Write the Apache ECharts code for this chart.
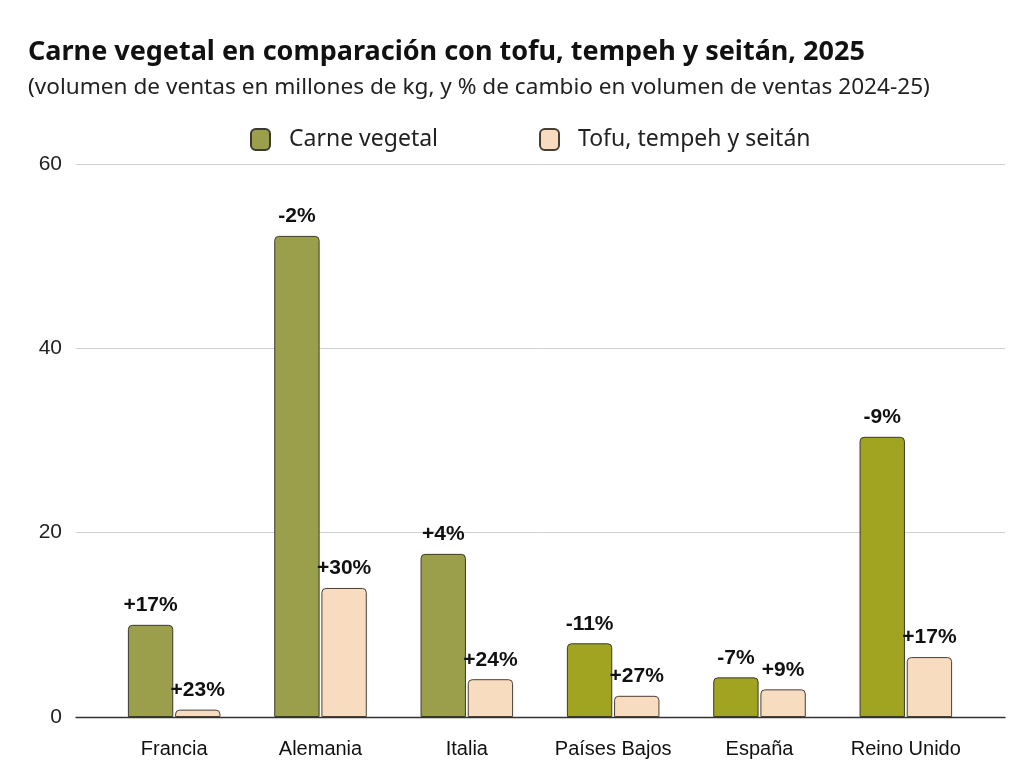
<!DOCTYPE html>
<html><head><meta charset="utf-8">
<script src="https://cdn.jsdelivr.net/npm/echarts@6/dist/echarts.min.js"></script>
<style>html,body{margin:0;padding:0;background:#fff}#c{width:1024px;height:768px}</style>
</head><body><div id="c"></div>
<script>
const categories = ['Francia','Alemania','Italia','Países Bajos','España','Reino Unido'];
const carneVegetal = [10.0, 52.2, 17.7, 8.0, 4.3, 30.4];
const tofu = [0.8, 14.0, 4.1, 2.3, 3.0, 6.5];
const carneChange = ['+17%','-2%','+4%','-11%','-7%','-9%'];
const tofuChange = ['+23%','+30%','+24%','+27%','+9%','+17%'];
const yTicks = [0, 20, 40, 60];

const cvColors = ['#9b9f4c','#9b9f4c','#9b9f4c','#a0a420','#a0a420','#a0a420'];

const chart = echarts.init(document.getElementById('c'));
const labelStyle = {show:true, position:'top', distance:9, fontFamily:'Liberation Sans, Arial, sans-serif', fontWeight:'bold', fontSize:21, color:'#111'};
chart.setOption({
  animation:false,
  title:[{text:'Carne vegetal en comparación con tofu, tempeh y seitán, 2025', left:23, top:34,
    textStyle:{fontFamily:'Noto Sans', fontWeight:'bold', fontSize:27, color:'#111'}},
    {text:'(volumen de ventas en millones de kg, y % de cambio en volumen de ventas 2024-25)', left:23, top:71,
    textStyle:{fontFamily:'Noto Sans', fontWeight:'normal', fontSize:22.6, color:'#222'}}],
  legend:{top:123, left:245, itemGap:101, itemWidth:19, itemHeight:21, icon:'roundRect',
    textStyle:{fontFamily:'Noto Sans', fontSize:23, color:'#222', padding:[0,0,0,14]},
    data:['Carne vegetal','Tofu, tempeh y seitán']},
  grid:[{left:76, right:19, top:164, bottom:51},{left:101, right:45, top:164, bottom:51}],
  xAxis:[
    {type:'value', gridIndex:0, min:0, max:1, show:true, axisLabel:{show:false}, axisTick:{show:false}, splitLine:{show:false},
     axisLine:{show:true, onZero:true, lineStyle:{color:'#333', width:1.3}}},
    {type:'category', gridIndex:1, data:categories, axisLine:{show:false}, axisTick:{show:false},
     axisLabel:{interval:0, margin:22, fontFamily:'Liberation Sans, Arial, sans-serif', fontSize:20, color:'#111'}}
  ],
  yAxis:[
    {type:'value', gridIndex:0, min:yTicks[0], max:yTicks[yTicks.length-1], interval:20,
     axisLine:{show:false}, axisTick:{show:false},
     axisLabel:{margin:14, fontFamily:'Liberation Sans, Arial, sans-serif', fontSize:21, color:'#222', padding:[3,0,0,0]},
     splitLine:{show:true, lineStyle:{color:'#d0d0d0', width:1}}},
    {type:'value', gridIndex:1, min:yTicks[0], max:yTicks[yTicks.length-1], interval:20, show:false}
  ],
  series:[
    {name:'Carne vegetal', type:'bar', xAxisIndex:1, yAxisIndex:1, barWidth:'31%', barGap:'4%',
     itemStyle:{color:'#9b9f4c', borderColor:'#3a3a2c', borderWidth:1, borderRadius:[4,4,0,0]},
     data:carneVegetal.map((v,i)=>({value:v, itemStyle:{color:cvColors[i]}})),
     label:Object.assign({}, labelStyle, {formatter:p=>carneChange[p.dataIndex]})},
    {name:'Tofu, tempeh y seitán', type:'bar', xAxisIndex:1, yAxisIndex:1, barWidth:'31%', barGap:'4%',
     itemStyle:{color:'#f8dcc0', borderColor:'#4a3e34', borderWidth:1, borderRadius:[4,4,0,0]},
     data:tofu,
     label:Object.assign({}, labelStyle, {formatter:p=>tofuChange[p.dataIndex]})}
  ]
});
</script></body></html>
